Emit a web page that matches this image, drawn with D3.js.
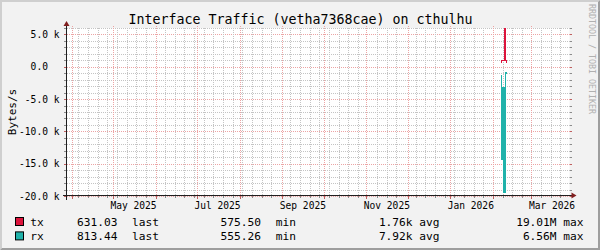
<!DOCTYPE html>
<html>
<head>
<meta charset="utf-8">
<script src="https://cdn.jsdelivr.net/npm/d3@7"></script>
<style>
body { margin: 0; background: #fff; }
svg { display: block; }
text { font-family: "DejaVu Sans Mono", monospace; white-space: pre; }
</style>
</head>
<body>
<svg width="600" height="250"></svg>
<script>
const title = "Interface Traffic (vetha7368cae) on cthulhu";
const yLabel = "Bytes/s";
const watermark = "RRDTOOL / TOBI OETIKER";

const timeStart = "2025-03-28T16:00Z";
const timeEnd = "2026-03-28T16:00Z";

const yTicks = [5000, 0, -5000, -10000, -15000, -20000];
const yTickLabels = ["5.0 k", "0.0  ", "-5.0 k", "-10.0 k", "-15.0 k", "-20.0 k"];

const xLabelMonths = ["2025-05-01", "2025-07-01", "2025-09-01", "2025-11-01", "2026-01-01", "2026-03-01"];
const xLabels = ["May 2025", "Jul 2025", "Sep 2025", "Nov 2025", "Jan 2026", "Mar 2026"];

// tx (outgoing, drawn above zero)
const txFrom = ["2026-02-06T22:00Z", "2026-02-07T15:20Z", "2026-02-09T02:15Z", "2026-02-10T13:05Z"];
const txTo   = ["2026-02-07T15:20Z", "2026-02-09T02:15Z", "2026-02-10T13:05Z", "2026-02-11T06:30Z"];
const txLow  = [550, 850, 850, 550];
const txHigh = [1100, 1100, 19010000, 1100];

// rx (incoming, drawn below zero)
const rxFrom = ["2026-02-06T22:00Z", "2026-02-07T15:20Z", "2026-02-08T08:50Z", "2026-02-09T19:40Z", "2026-02-10T13:05Z"];
const rxTo   = ["2026-02-07T15:20Z", "2026-02-08T08:50Z", "2026-02-09T19:40Z", "2026-02-10T13:05Z", "2026-02-11T06:30Z"];
const rxLow  = [-14400, -14400, -19500, -19500, -1100];
const rxHigh = [-1200, -3200, -3200, -850, -850];

const seriesNames = ["tx", "rx"];
const seriesColors = ["#DC143C", "#20B2AA"];
const lastVals = ["631.03", "813.44"];
const minVals = ["575.50", "555.26"];
const avgVals = ["1.76k", "7.92k"];
const maxVals = ["19.01M", "6.56M"];

const svg = d3.select("svg");
const W = 600, H = 250;
const x0 = 67, x1 = 569.5, yTop = 28, yBot = 196;

const parse = d3.isoParse;
const x = d3.scaleUtc()
    .domain([parse(timeStart), parse(timeEnd)])
    .range([x0, x1]);
const y = d3.scaleLinear()
    .domain([-20000, 6000])
    .range([yBot, yTop]);

// background and 3d frame
svg.append("rect").attr("width", W).attr("height", H).attr("fill", "#F2F2F2");
svg.append("path").attr("d", `M0,0H${W}L${W-2},2H2V${H-2}L0,${H}Z`).attr("fill", "#CFCFCF");
svg.append("path").attr("d", `M${W},0V${H}H0L2,${H-2}H${W-2}V2Z`).attr("fill", "#9E9E9E");
svg.append("rect").attr("x", x0).attr("y", yTop).attr("width", x1 - x0).attr("height", yBot - yTop).attr("fill", "#fff");

const minorCol = "#C4C4C4", majorCol = "#ECA4A4";
const grid = svg.append("g").attr("shape-rendering", "crispEdges");
const px = v => Math.round(v) + 0.5;

// horizontal grid
const minorY = d3.range(-20000, 6001, 1000).filter(v => v % 5000 !== 0);
grid.selectAll(".hmin").data(minorY).enter().append("line")
    .attr("x1", x0 - 2).attr("x2", x1 + 2)
    .attr("y1", d => px(y(d))).attr("y2", d => px(y(d)))
    .attr("stroke", minorCol).attr("stroke-dasharray", "1,1");
grid.selectAll(".hmaj").data(yTicks).enter().append("line")
    .attr("x1", x0 - 2).attr("x2", x1 + 2)
    .attr("y1", d => px(y(d))).attr("y2", d => px(y(d)))
    .attr("stroke", majorCol).attr("stroke-dasharray", "1,1");
[[minorY, "#8C8C8C"], [yTicks, "#C06060"]].forEach(([vals, col]) => {
    grid.selectAll(null).data(vals).enter().append("path")
        .attr("d", d => `M${x0 - 3},${px(y(d))}H${x0}M${x1},${px(y(d))}H${x1 + 2}`)
        .attr("stroke", col);
});

// vertical grid: months major, weeks minor
const months = d3.utcMonth.range(x.domain()[0], x.domain()[1]);
const weeks = d3.utcSunday.range(x.domain()[0], x.domain()[1])
    .filter(w => x(w) > x0 + 3 && !months.some(m => Math.abs(x(m) - x(w)) < 2));
grid.selectAll(".vmin").data(weeks).enter().append("line")
    .attr("x1", d => px(x(d))).attr("x2", d => px(x(d)))
    .attr("y1", yTop).attr("y2", yBot)
    .attr("stroke", minorCol).attr("stroke-dasharray", "1,1");
grid.selectAll(".vmaj").data(months).enter().append("line")
    .attr("x1", d => px(x(d))).attr("x2", d => px(x(d)))
    .attr("y1", yTop - 2).attr("y2", yBot)
    .attr("stroke", majorCol).attr("stroke-dasharray", "1,1");
grid.selectAll(".vtick").data(months).enter().append("path")
    .attr("d", d => `M${px(x(d))},${yBot}V${yBot + 3}`)
    .attr("stroke", "#C06060");
grid.selectAll(".vtickm").data(weeks).enter().append("path")
    .attr("d", d => `M${px(x(d))},${yBot}V${yBot + 2}`)
    .attr("stroke", "#8C8C8C");

// series, snapped to whole pixels like rrdtool
svg.append("clipPath").attr("id", "plot")
    .append("rect").attr("x", x0).attr("y", yTop).attr("width", x1 - x0).attr("height", yBot - yTop);
const plot = svg.append("g").attr("clip-path", "url(#plot)").attr("shape-rendering", "crispEdges");

function drawSeries(from, to, low, high, color) {
    const rows = from.map((f, i) => ({ a: parse(f), b: parse(to[i]), lo: low[i], hi: high[i] }));
    plot.selectAll(null).data(rows).enter().append("rect")
        .attr("x", d => Math.round(x(d.a)))
        .attr("width", d => Math.round(x(d.b)) - Math.round(x(d.a)))
        .attr("y", d => Math.round(y(d.hi)))
        .attr("height", d => Math.round(y(d.lo)) - Math.round(y(d.hi)))
        .attr("fill", color);
}
drawSeries(txFrom, txTo, txLow, txHigh, seriesColors[0]);
drawSeries(rxFrom, rxTo, rxLow, rxHigh, seriesColors[1]);

// axes
const axisCol = "#1F1F1F", arrowCol = "#801F1F";
svg.append("path").attr("d", `M${x0 - 4},${yBot - 0.5}H${x1 + 4}`).attr("stroke", axisCol);
svg.append("path").attr("d", `M${x0 - 0.5},${yBot + 4}V${yTop - 4}`).attr("stroke", axisCol);
svg.append("path").attr("d", `M${x1 + 2},${yBot - 3.5}V${yBot + 2.5}L${x1 + 7},${yBot - 0.5}Z`).attr("fill", arrowCol);
svg.append("path").attr("d", `M${x0 - 3.5},${yTop - 2}H${x0 + 2.5}L${x0 - 0.5},${yTop - 7}Z`).attr("fill", arrowCol);

// tick labels
svg.selectAll(".ylab").data(yTicks).enter().append("text")
    .attr("x", 59.5).attr("y", d => y(d) + 3.6)
    .attr("text-anchor", "end").attr("font-size", 9.6)
    .text((d, i) => yTickLabels[i]);
svg.selectAll(".xlab").data(xLabelMonths).enter().append("text")
    .attr("x", d => x(d3.utcDay.offset(parse(d + "T00:00Z"), 15)))
    .attr("y", 209).attr("text-anchor", "middle").attr("font-size", 9.6)
    .text((d, i) => xLabels[i]);

// title, unit, watermark
svg.append("text").attr("x", 300.5).attr("y", 23.5).attr("text-anchor", "middle")
    .attr("font-size", 13.3).text(title);
svg.append("text").attr("transform", "translate(15.5,112) rotate(-90)")
    .attr("text-anchor", "middle").attr("font-size", 11).text(yLabel);
svg.append("text").attr("transform", "translate(588.5,4) rotate(90)")
    .attr("font-size", 8.3).attr("fill", "#B0B0B0").text(watermark);

// legend
const legend = svg.selectAll(".leg").data(seriesNames).enter().append("g")
    .attr("transform", (d, i) => `translate(0,${i * 14.4})`);
legend.append("rect").attr("x", 15.5).attr("y", 217.5).attr("width", 8).attr("height", 8)
    .attr("fill", (d, i) => seriesColors[i]).attr("stroke", "#000");
const legText = (sel, xp, anchor, fn) => sel.append("text")
    .attr("x", xp).attr("y", 226).attr("text-anchor", anchor)
    .attr("font-size", 11.2).text(fn);
legText(legend, 30.3, "start", d => d);
legText(legend, 117.5, "end", (d, i) => lastVals[i]);
legText(legend, 132, "start", () => "last");
legText(legend, 261, "end", (d, i) => minVals[i]);
legText(legend, 275.7, "start", () => "min");
legText(legend, 439.5, "end", (d, i) => avgVals[i] + " avg");
legText(legend, 583.5, "end", (d, i) => maxVals[i] + " max");
</script>
</body>
</html>
